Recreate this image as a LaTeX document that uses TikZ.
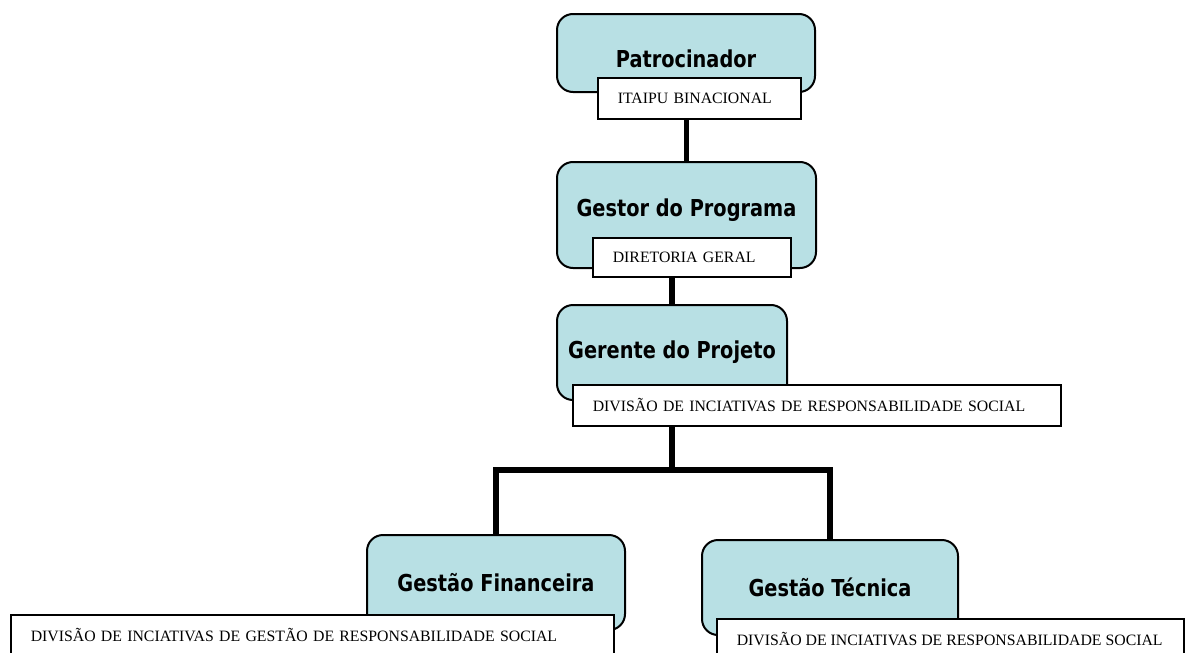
\documentclass[tikz,border=0pt]{standalone}
\usepackage{fontspec}
\usepackage{xcolor, tikz}
\setmainfont{Liberation Serif}
\newfontfamily\rolefont[FakeStretch=0.83]{DejaVu Sans}
\definecolor{rolefill}{RGB}{184,224,228}
\tikzset{
    rolebox/.style={draw, line width=2pt, rounded corners=16pt, fill=rolefill, inner sep=0pt,
        font=\rolefont\bfseries\fontsize{23.3}{28}\selectfont},
    orglabel/.style={draw, line width=1.6pt, fill=white, anchor=north west, inner xsep=20pt,
        inner ysep=0pt, minimum height=41pt, align=left, font=\fontsize{15.8}{18}\selectfont},
    orgline/.style={line width=5.5pt}
}

\begin{document}
\begin{tikzpicture}[x=1pt, y=-1pt]
        \useasboundingbox (0,0) rectangle (1187,653);
        % cargos
        \node[rolebox, minimum width=258pt, minimum height=78pt, text height=30pt] (patro) at (686,53) {Patrocinador};
        \node[rolebox, minimum width=259pt, minimum height=106pt, text depth=15pt] (gestor) at (686.5,215) {Gestor do Programa};
        \node[rolebox, minimum width=230pt, minimum height=95pt] (gerente) at (672,352.5) {Gerente do Projeto};
        \node[rolebox, minimum width=258pt, minimum height=95pt] (financeira) at (496,582.5) {Gestão Financeira};
        \node[rolebox, minimum width=256pt, minimum height=95pt] (tecnica) at (830,587.5) {Gestão Técnica};
        % unidades
        \node[orglabel, text width=163pt] (itaipu) at (597,77) {ITAIPU BINACIONAL};
        \node[orglabel, text width=158pt, minimum height=39pt] (diretoria) at (592,237) {DIRETORIA GERAL};
        \node[orglabel, text width=448pt] (divisao) at (572,384) {DIVISÃO DE INCIATIVAS DE RESPONSABILIDADE SOCIAL};
        \node[orglabel, text width=563pt] (divfin) at (10,614) {DIVISÃO DE INCIATIVAS DE GESTÃO DE RESPONSABILIDADE SOCIAL};
        \node[orglabel] (divtec) at (716,618) {\makebox[427pt][l]{DIVISÃO DE INCIATIVAS DE RESPONSABILIDADE SOCIAL}};
        % ligacoes
        \draw[orgline] (gestor.north) -- (gestor.north |- itaipu.south);
        \draw[orgline] (gerente.north) -- (gerente.north |- diretoria.south);
        \coordinate (fork) at (672,470);
        \draw[orgline] (gerente.south |- divisao.south) -- (fork);
        \draw[orgline] (fork) -| (financeira.north);
        \draw[orgline] (fork) -| (tecnica.north);
    \end{tikzpicture}
\end{document}
